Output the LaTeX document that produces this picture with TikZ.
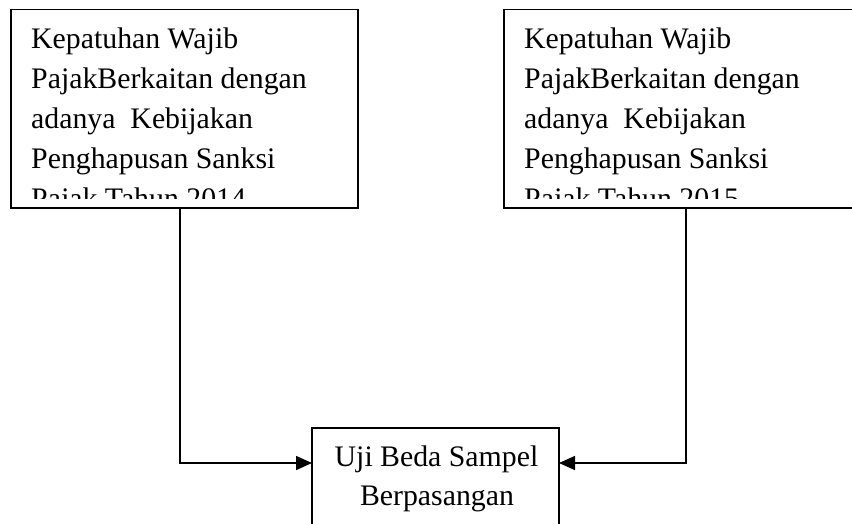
\documentclass[tikz,border=0pt]{standalone}
\usepackage{fontspec}
\setmainfont{Liberation Serif}
\usetikzlibrary{arrows.meta}
\begin{document}
\begin{tikzpicture}[x=1pt,y=-1pt,
  box/.style={draw,line width=1.5pt,rectangle,inner sep=0pt,outer sep=0pt},
  txt/.style={inner sep=0pt,anchor=base west,font=\fontsize{29.8}{40}\selectfont},
  ctxt/.style={inner sep=0pt,anchor=base,font=\fontsize{29.8}{40}\selectfont},
  conn/.style={line width=1.5pt,-{Triangle[length=16pt,width=14pt]}}]
\useasboundingbox (0,0) rectangle (852,523);
\clip (0,0) rectangle (852,523);
% top boxes
\node[box,minimum width=347pt,minimum height=198.5pt,anchor=north west] (L) at (11,9.5) {};
\node[box,minimum width=380pt,minimum height=198.5pt,anchor=north west] (R) at (504,9.5) {};
% clipped texts
\begin{scope}
\clip (11,9.5) rectangle (358,198.5);
\node[txt] (l1) at (31,48) {Kepatuhan Wajib};
\node[txt] (l2) at (31,88) {PajakBerkaitan dengan};
\node[txt] (l3) at (31,128) {adanya~ Kebijakan};
\node[txt] (l4) at (31,168) {Penghapusan Sanksi};
\node[txt] (l5) at (31,208) {Pajak Tahun 2014};
\end{scope}
\begin{scope}
\clip (504,9.5) rectangle (852,198.5);
\node[txt] (r1) at (524,48) {Kepatuhan Wajib};
\node[txt] (r2) at (524,88) {PajakBerkaitan dengan};
\node[txt] (r3) at (524,128) {adanya~ Kebijakan};
\node[txt] (r4) at (524,168) {Penghapusan Sanksi};
\node[txt] (r5) at (524,208) {Pajak Tahun 2015};
\end{scope}
% bottom box (open at the bottom edge of the picture)
\node[box,minimum width=247pt,minimum height=140pt,anchor=north] (B) at (435.5,428) {};
\node[ctxt] (b1) at (436.5,466.5) {Uji Beda Sampel};
\node[ctxt] (b2) at (437,505) {Berpasangan};
% connectors
\draw[conn] ([xshift=-4.5pt]L.south) |- ([yshift=35pt]B.west);
\draw[conn] ([xshift=-8pt]R.south) |- ([yshift=35pt]B.east);
\end{tikzpicture}
\end{document}
